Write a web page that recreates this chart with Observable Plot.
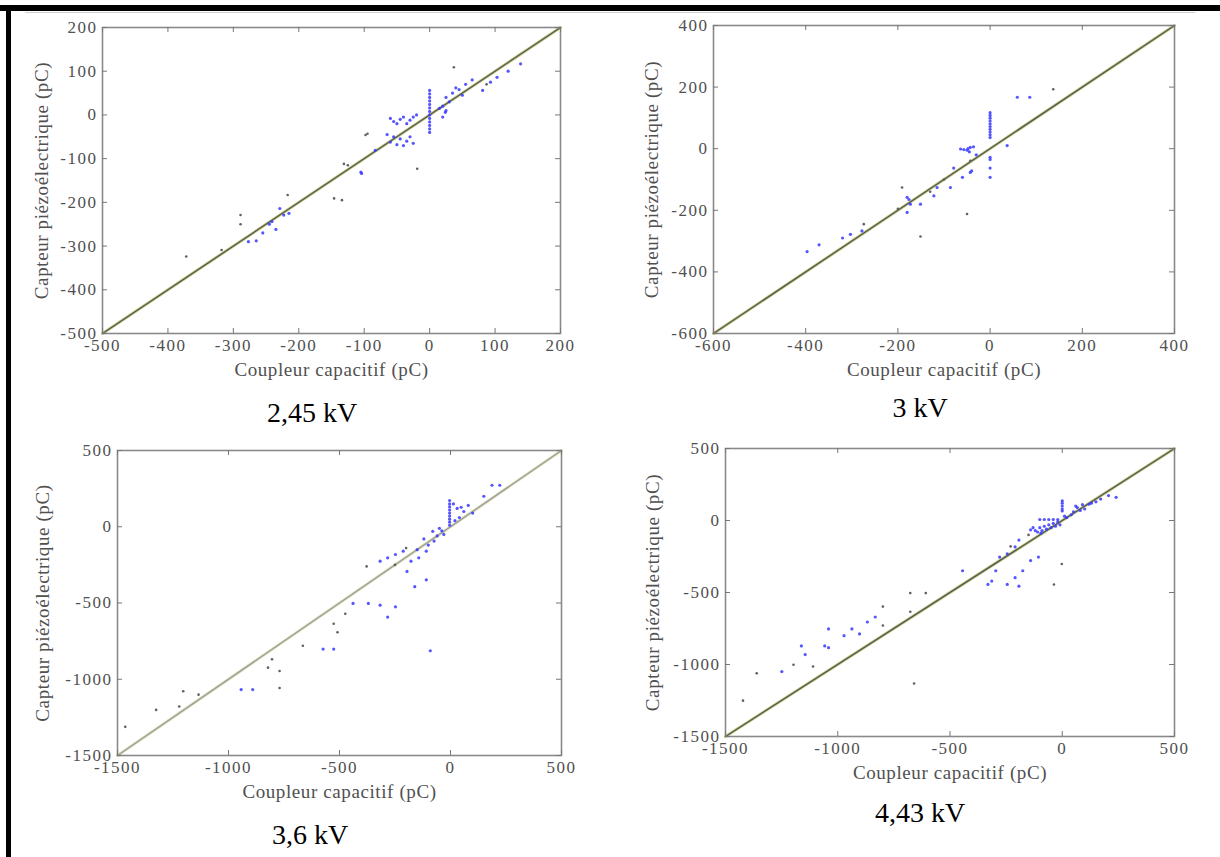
<!DOCTYPE html>
<html><head><meta charset="utf-8">
<script src="https://cdn.jsdelivr.net/npm/d3@7"></script>
<script src="https://cdn.jsdelivr.net/npm/@observablehq/plot@0.6"></script>
<style>
body{margin:0;background:#fff;width:1220px;height:857px;position:relative;overflow:hidden;font-family:"Liberation Serif",serif;}
.bar{position:absolute;background:#000;}
.cap{position:absolute;font-size:28px;color:#000;transform:translate(-50%,-50%);white-space:nowrap;font-family:"Liberation Serif",serif;}
svg{position:absolute;}
svg g[aria-label="x-axis tick label"] text, svg g[aria-label="y-axis tick label"] text{letter-spacing:1.5px;}
svg g[aria-label="x-axis label"] text, svg g[aria-label="y-axis label"] text{letter-spacing:0.6px;font-size:19px;}
</style></head><body>
<div class="bar" style="left:0;top:5px;width:1220px;height:6px"></div>
<div class="bar" style="left:6px;top:5px;width:5px;height:852px"></div>
<div style="position:absolute;left:25px;top:12px;width:1170px;height:1px;background:#d0d0d0"></div>
<script>
// ---- data ----
const captions = ["2,45 kV", "3 kV", "3,6 kV", "4,43 kV"];
const xTitle = "Coupleur capacitif (pC)";
const yTitle = "Capteur piézoélectrique (pC)";

const p1Domain = [-500, 200];
const p1Ticks = [-500, -400, -300, -200, -100, 0, 100, 200];
const p1Blue = [[0,56],[0,48],[0,40],[0,32],[0,24],[0,16],[0,8],[0,0],[0,-8],[0,-16],[0,-24],[0,-32],[0,-40],
 [-55,-15],[-45,-10],[-40,-5],[-35,-20],[-25,-5],[-20,0],[-50,-20],[-30,-12],[-60,-8],
 [-60,-62],[-50,-68],[-45,-55],[-35,-60],[-30,-50],[-25,-65],[-40,-70],[-55,-50],[-65,-45],
 [-83,-81],[-105,-131],[25,40],[35,50],[45,58],[55,70],[65,80],[40,62],[50,45],[30,30],[20,20],[25,10],[15,15],
 [24,6],[20,-5],[81,56],[93,75],[103,86],[139,117],[120,100],
 [-104,-134],[-229,-214],[-223,-229],[-241,-244],[-235,-262],[-215,-225],[-277,-290],[-265,-288],[-255,-270],[-245,-250]];
const p1Dark = [[37,109],[-95,-43],[-19,-123],[-131,-112],[87,70],[-146,-191],[-134,-195],[-217,-183],
 [-289,-229],[-289,-250],[-318,-309],[-372,-324],[-98,-46],[-125,-115]];

const p2Domain = [-600, 400];
const p2Ticks = [-600, -400, -200, 0, 200, 400];
const p2Blue = [[59,167],[86,167],[37,10],[-43,4],[-36,6],[-50,-5],[-64,-1],[-57,-3],[-43,-77],[-40,-72],
 [-60,-93],[-79,-63],[-86,-126],[-115,-126],[-122,-153],[-180,-158],[-176,-165],[-173,-180],[-180,-207],[-151,-180],
 [0,-93],[0,-63],[0,-28],[0,-35],[0,117],[0,108],[0,99],[0,90],[0,81],[0,72],[0,63],[0,54],[0,45],[0,36],
 [-397,-334],[-371,-312],[-303,-278],[-278,-267],[-320,-290],[-45,-10],[-48,0],[-30,-20]];
const p2Dark = [[-43,-39],[-191,-126],[-50,-212],[-151,-285],[-274,-245],[137,193],[-100,-100],[-130,-140],[-200,-195]];

const p3Domain = [-1500, 500];
const p3Ticks = [-1500, -1000, -500, 0, 500];
const p3Blue = [[-4,172],[-4,150],[-4,130],[-4,110],[-4,90],[-4,70],[-4,50],[-4,30],[-4,10],[13,150],[30,120],[48,128],
 [60,100],[80,140],[100,90],[40,60],[20,40],[187,272],[222,272],[150,200],[-39,-27],[-50,-10],[-30,-50],[-74,-94],
 [-109,-160],[-143,-204],[-178,-226],[-213,-160],[-248,-182],[-283,-204],[-317,-226],[-196,-293],[-161,-393],[-109,-348],
 [-439,-503],[-370,-503],[-317,-514],[-248,-525],[-283,-592],[-574,-802],[-526,-802],[-91,-813],[-943,-1068],[-891,-1068],
 [-60,-60],[-80,-30],[-100,-120],[-120,-80],[-150,-150]];
const p3Dark = [[-378,-260],[-474,-570],[-526,-636],[-509,-692],[-665,-780],[-804,-869],[-770,-946],[-822,-924],
 [-770,-1057],[-1204,-1079],[-1135,-1101],[-1222,-1179],[-1326,-1201],[-1465,-1312],[-250,-250],[-200,-140]];

const p4Domain = [-1500, 500];
const p4Ticks = [-1500, -1000, -500, 0, 500];
const p4Blue = [[-100,-50],[-90,-70],[-80,-40],[-70,-60],[-60,-30],[-50,-50],[-40,-20],[-30,-40],[-20,-10],[-10,-30],
 [-100,7],[-80,7],[-60,7],[-40,7],[-20,7],[-110,-80],[-95,-88],[-120,-70],[-130,-50],[0,137],[0,120],[0,100],[0,80],[0,66],
 [67,90],[119,113],[171,149],[206,173],[240,161],[50,60],[80,70],[100,80],[60,100],[90,110],[130,120],[150,130],[40,40],
 [20,20],[10,30],[-141,-65],[-193,-136],[-210,-183],[-245,-231],[-279,-254],[-296,-349],[-314,-421],[-331,-444],[-245,-444],
 [-210,-397],[-176,-349],[-141,-278],[-106,-254],[-193,-456],[-444,-349],[-903,-788],[-937,-753],[-972,-800],[-1041,-753],
 [-1058,-871],[-1041,-883],[-1145,-931],[-1162,-871],[-1249,-1049],[-868,-705],[-833,-670]];
const p4Dark = [[-37,-444],[-2,-302],[-677,-504],[-608,-504],[-677,-634],[-799,-598],[-799,-729],[-1197,-1002],
 [-1110,-1014],[-1361,-1061],[-1422,-1251],[-660,-1132],[-150,-100],[-230,-180]];

// ---- layout ----
const panels = [
  {domain:p1Domain, ticks:p1Ticks, blue:p1Blue, dark:p1Dark, frame:[102,27,458,306], line:"#555", halo:"#c4cc80", yOff:68, cap:[312,413]},
  {domain:p2Domain, ticks:p2Ticks, blue:p2Blue, dark:p2Dark, frame:[713,25,461,308], line:"#555", halo:"#c4cc80", yOff:69, cap:[920,408]},
  {domain:p3Domain, ticks:p3Ticks, blue:p3Blue, dark:p3Dark, frame:[117,450,444,305], line:"#9c9c9c", halo:"#dfe2b8", yOff:82, cap:[310,835]},
  {domain:p4Domain, ticks:p4Ticks, blue:p4Blue, dark:p4Dark, frame:[725,448,449,288], line:"#555", halo:"#c4cc80", yOff:80, cap:[920,813]}
];

panels.forEach((p, i) => {
  const [fx, fy, fw, fh] = p.frame;
  const mL = 110, mR = 30, mT = 20, mB = 70;
  const diag = [[p.domain[0], p.domain[0]], [p.domain[1], p.domain[1]]];
  const fmt = d => String(d);
  const chart = Plot.plot({
    width: fw + mL + mR, height: fh + mT + mB,
    marginLeft: mL, marginRight: mR, marginTop: mT, marginBottom: mB,
    x: {domain: p.domain, ticks: p.ticks},
    y: {domain: p.domain, ticks: p.ticks},
    style: {fontFamily: "Liberation Serif", fontSize: "17px", color: "#505050", background: "transparent", overflow: "visible"},
    marks: [
      Plot.line(diag, {x: d => d[0], y: d => d[1], stroke: p.halo, strokeWidth: 3}),
      Plot.line(diag, {x: d => d[0], y: d => d[1], stroke: p.line, strokeWidth: 1.3}),
      Plot.dot(p.dark, {x: d => d[0], y: d => d[1], r: 1.3, fill: "#606060", stroke: null}),
      Plot.dot(p.blue, {x: d => d[0], y: d => d[1], r: 1.6, fill: "#3838ff", stroke: null, fillOpacity: 0.85}),
      Plot.frame({stroke: "#8a8a8a", strokeWidth: 1.6}),
      Plot.tickX(p.ticks, {x: d => d, insetTop: fh - 5, stroke: "#777"}),
      Plot.tickX(p.ticks, {x: d => d, insetBottom: fh - 5, stroke: "#777"}),
      Plot.tickY(p.ticks, {y: d => d, insetRight: fw - 5, stroke: "#777"}),
      Plot.tickY(p.ticks, {y: d => d, insetLeft: fw - 5, stroke: "#777"}),
      Plot.axisX({ticks: p.ticks, tickFormat: fmt, tickSize: 0, tickPadding: 5, label: xTitle, labelAnchor: "center", labelOffset: 42, labelArrow: "none"}),
      Plot.axisY({ticks: p.ticks, tickFormat: fmt, tickSize: 0, tickPadding: 5, label: yTitle, labelAnchor: "center", labelOffset: p.yOff, labelArrow: "none"})
    ]
  });
  chart.style.left = (fx - mL) + "px";
  chart.style.top = (fy - mT) + "px";
  document.body.appendChild(chart);
  const c = document.createElement("div");
  c.className = "cap";
  c.textContent = captions[i];
  c.style.left = p.cap[0] + "px";
  c.style.top = p.cap[1] + "px";
  document.body.appendChild(c);
});
</script>
</body></html>
